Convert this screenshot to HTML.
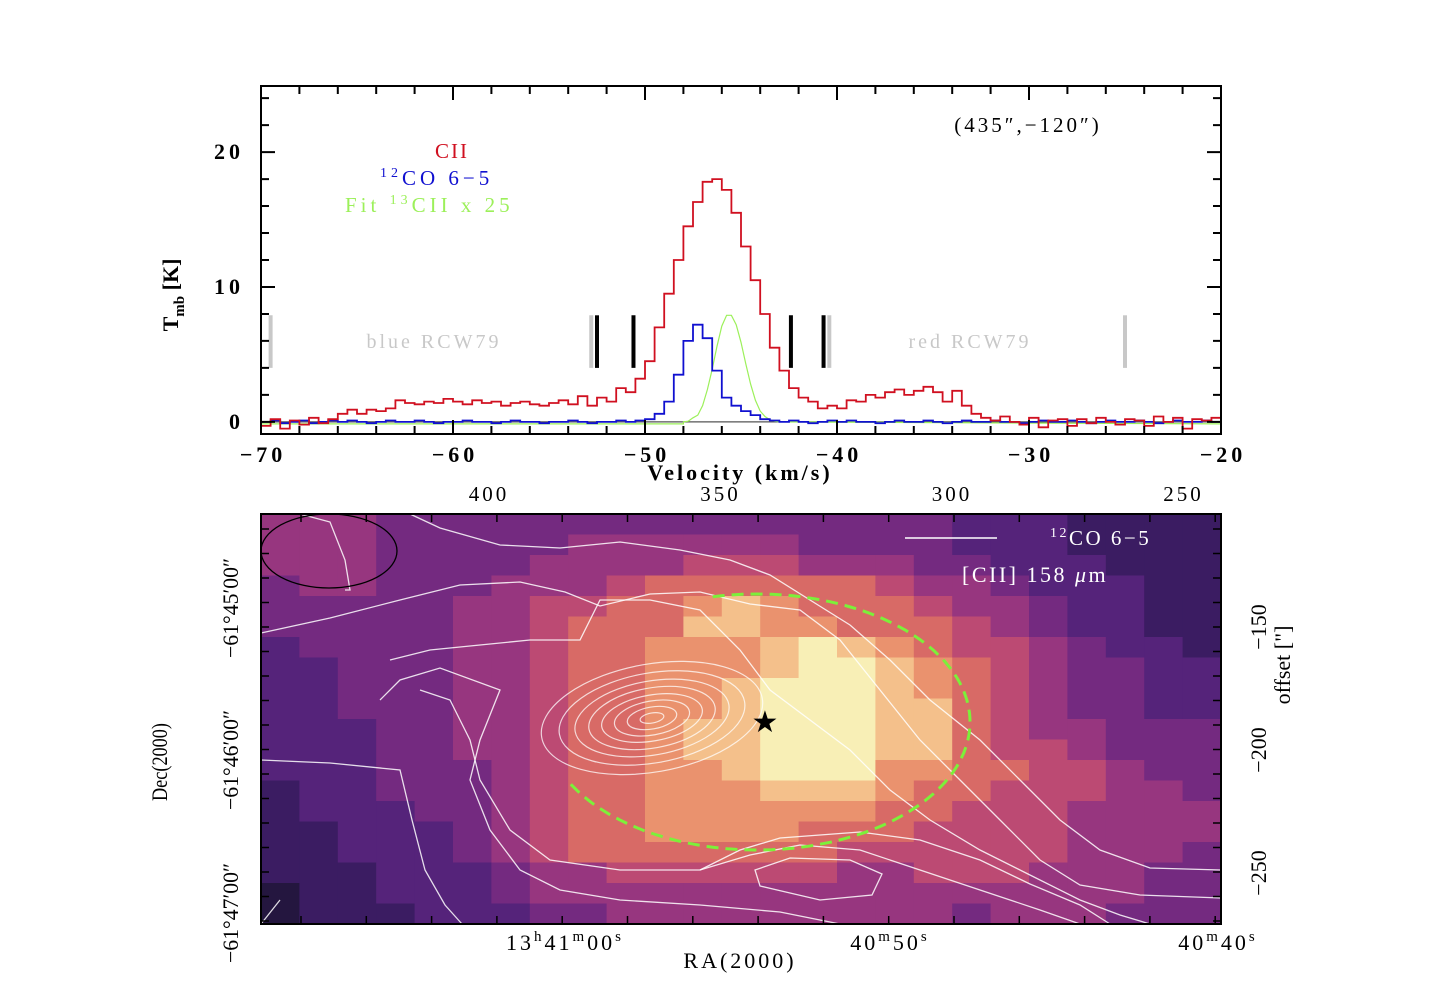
<!DOCTYPE html>
<html><head><meta charset="utf-8"><style>
html,body{margin:0;padding:0;background:#fff;}
svg{display:block;}
text{font-family:"Liberation Serif",serif;}
</style></head><body>
<svg id="root" width="1440" height="1008" viewBox="0 0 1440 1008" xmlns="http://www.w3.org/2000/svg">
<rect x="0" y="0" width="1440" height="1008" fill="#fff"/>
<g id="spec"></g>
<g id="map">
  <g id="heat"></g>
  <g fill="none" stroke="#fff" stroke-width="1.3" stroke-opacity="0.85">
    <path d="M300,514 L330,522 L345,560 L350,590 L345,590"/>
    <path d="M410,514 L440,528 L500,545 L560,548 L620,542 L680,550 L730,560 L770,575 L810,600 L850,625 L890,660 L930,700 L980,740 L1020,780 L1060,820 L1100,850 L1150,868 L1221,870"/>
    <path d="M261,633 L330,618 L400,600 L460,585 L520,582 L565,592 L600,606 L650,594 L700,592 L750,604 L800,610 L840,640 L880,690 L920,740 L960,780 L1000,820 L1040,860 L1080,885 L1140,895 L1221,898"/>
    <path d="M261,760 L330,763 L400,770 L412,820 L425,870 L445,905 L462,924"/>
    <path d="M390,660 L430,650 L480,645 L530,640 L580,640 L600,600 L650,600 L700,610 L740,650 L770,690 L810,720 L850,750 L890,790 L930,820 L980,850 L1030,875 L1080,900 L1120,915 L1150,924"/>
    <path d="M380,700 L400,680 L440,668 L500,690 L480,740 L470,780 L490,830 L520,870 L560,890 L620,900 L700,905 L780,912 L840,924"/>
    <path d="M420,690 L450,700 L470,740 L480,780 L510,830 L550,860 L620,870 L700,870 L750,855 L800,845 L860,850 L920,870 L980,890 L1040,910 L1080,924"/>
    <path d="M755,870 L790,858 L850,860 L882,874 L872,895 L820,900 L760,886 Z"/>
    <path d="M700,870 L740,850 L780,838 L860,832 L920,840 L980,860 L1030,884 L1080,905 L1110,924"/>
    <path d="M261,924 L280,900"/>
  </g>
  <g id="ellc" fill="none" stroke="#fff" stroke-width="1.2" stroke-opacity="0.75"></g>
  <ellipse cx="329" cy="551" rx="68" ry="37" fill="none" stroke="#000" stroke-width="1.3"/>
  <path id="dash" fill="none" stroke="#7cf03a" stroke-width="3" stroke-dasharray="12,7"/>
  <text x="765" y="732" font-size="30" text-anchor="middle" fill="#000">★</text>
  <line x1="905" y1="538" x2="997" y2="538" stroke="#fff" stroke-width="1.6"/>
  <text x="1050" y="545" font-size="21" fill="#fff" letter-spacing="2.5"><tspan font-size="14" dy="-8">12</tspan><tspan dy="8">CO 6−5</tspan></text>
  <text x="962" y="582" font-size="22" fill="#fff" letter-spacing="2.5">[CII] 158 <tspan font-style="italic">μ</tspan>m</text>
</g>
</svg>
<script>
// ---------- Spectrum data ----------
const chanStart = -70, chanWidth = 0.5;
const ciiValues = [-0.3,0.2,-0.5,0.1,-0.2,0.3,-0.1,0.2,0.6,0.9,
 0.6,0.9,0.8,1.0,1.6,1.4,1.3,1.5,1.4,1.7,
 1.5,1.3,1.6,1.4,1.5,1.2,1.4,1.5,1.3,1.2,
 1.4,1.6,1.3,1.9,1.2,1.8,1.5,2.5,2.2,3.2,
 4.5,7.0,9.5,12.0,14.5,16.3,17.8,18.0,17.2,15.5,
 13.0,10.5,8.0,5.5,3.8,2.5,1.8,1.5,1.0,1.2,
 1.0,1.6,1.5,2.0,1.8,2.2,2.4,2.0,2.3,2.6,
 2.2,1.5,2.3,1.2,0.6,0.3,0.1,0.4,0.0,-0.2,
 0.3,-0.4,0.1,0.2,-0.3,0.2,-0.1,0.3,0.0,-0.2,
 0.2,0.1,-0.3,0.4,0.0,0.3,-0.5,0.2,0.1,0.3];
const coValues = [0.0,0.1,-0.1,0.0,0.1,-0.1,0.0,0.1,0.0,0.1,
 0.0,-0.1,0.0,0.1,0.0,0.0,0.1,0.0,-0.1,0.0,
 0.0,0.1,0.0,0.0,-0.1,0.0,0.1,0.0,0.0,-0.1,
 0.0,0.0,0.1,0.0,-0.1,0.0,0.0,0.1,0.0,0.1,
 0.2,0.6,1.5,3.5,6.0,7.2,6.2,3.8,1.8,1.2,
 0.8,0.5,0.2,0.1,0.0,0.1,0.0,-0.1,0.0,0.1,
 0.0,0.1,0.0,0.0,-0.1,0.0,0.1,0.0,0.0,0.1,
 0.0,-0.1,0.0,0.1,0.0,0.0,0.1,0.0,0.0,-0.1,
 0.0,0.1,0.0,0.0,0.1,0.0,-0.1,0.0,0.1,0.0,
 0.0,0.1,0.0,-0.1,0.0,0.1,0.0,0.0,0.1,0.0];
const fitVel = [-48,-47.75,-47.5,-47.25,-47,-46.75,-46.5,-46.25,-46,-45.75,-45.5,-45.25,-45,-44.75,-44.5,-44.25,-44,-43.75,-43.5,-43.25,-43];
const fitValues = [0.0,0.05,0.3,0.5,1.2,2.4,3.9,5.6,7.1,7.9,7.9,7.2,5.9,4.3,2.8,1.6,0.8,0.4,0.15,0.05,0.0];
const xTicks = [-70,-60,-50,-40,-30,-20];
const yTicks = [0,10,20];
const grayMarks = [-69.5,-52.8,-40.4,-25.0];
const blackMarks = [-52.5,-50.6,-42.4,-40.7];

// ---------- Map data ----------
const topTicks = [400,350,300,250];
const rightTicks = [-150,-200,-250];
const decLabels = ["−61°45′00″","−61°46′00″","−61°47′00″"];
const decPos = [608,760,913];
const ciiRows = [
"4443333333333333332221111",
"4443333344444433332221111",
"4443333444455544433222111",
"3443334445666666544322211",
"3333344556678766654432211",
"3333344566688776665432211",
"2333344566777898765543221",
"2233344566777899876543322",
"2233344566778999876543322",
"2233344566778999886543322",
"2223344566788999886544333",
"2223344566788999886554333",
"2223334566778999776655433",
"1223334566777888766555443",
"1222334566777777665554444",
"1122234566777766655554444",
"1122234566666665555554443",
"1112223445555554455544433",
"0112223444444444444444433",
"0111222334444444443444333"];
const coLevelsRx = [12,25,38,51,64,78,94,112];
const coLevelsRy = [5,11,17,23,30,37,45,54];

const NS = "http://www.w3.org/2000/svg";
function mk(tag, attrs, parent){const e=document.createElementNS(NS,tag);for(const k in attrs)e.setAttribute(k,attrs[k]);parent.appendChild(e);return e;}

const X0=261,X1=1221,Y0=86,Y1=434;
const vmin=-70,vmax=-20,tmin=-0.9,tmax=24.9;
const sx=v=>X0+(v-vmin)/(vmax-vmin)*(X1-X0);
const sy=t=>Y1-(t-tmin)/(tmax-tmin)*(Y1-Y0);
const spec=document.getElementById('spec');

grayMarks.forEach(v=>{const l=mk('line',{x1:sx(v),x2:sx(v),y1:sy(7.9),y2:sy(4.0),stroke:'#c8c8c8','stroke-width':4},spec);

});
blackMarks.forEach(v=>{const l=mk('line',{x1:sx(v),x2:sx(v),y1:sy(7.9),y2:sy(4.0),stroke:'#000','stroke-width':4},spec);

});
let t;
t=mk('text',{x:434,y:348,'font-size':20,'text-anchor':'middle',fill:'#c8c8c8','letter-spacing':'3'},spec);t.textContent='blue RCW79';


t=mk('text',{x:970,y:348,'font-size':20,'text-anchor':'middle',fill:'#c8c8c8','letter-spacing':'3'},spec);t.textContent='red RCW79';



const bl=mk('line',{x1:X0,x2:X1,y1:sy(0),y2:sy(0),stroke:'#555','stroke-width':1.3},spec);



function stepPath(vals){let d='';vals.forEach((y,i)=>{const a=sx(chanStart+i*chanWidth),b=sx(chanStart+(i+1)*chanWidth);d+=(i?'L':'M')+a.toFixed(1)+','+sy(y).toFixed(1)+'L'+b.toFixed(1)+','+sy(y).toFixed(1);});return d;}
let gd='M'+sx(vmin)+','+sy(-0.15)+'L'+sx(fitVel[0])+','+sy(-0.15);
fitVel.forEach((v,i)=>{gd+='L'+sx(v).toFixed(1)+','+sy(fitValues[i]).toFixed(1);});
gd+='L'+sx(vmax)+','+sy(-0.15);
const gp=mk('path',{d:gd,fill:'none',stroke:'#9cf05a','stroke-width':1.2},spec);


const bp=mk('path',{d:stepPath(coValues),fill:'none',stroke:'#1010d0','stroke-width':1.8},spec);


const rp=mk('path',{d:stepPath(ciiValues),fill:'none',stroke:'#d01020','stroke-width':1.8},spec);



const fr=mk('rect',{x:X0,y:Y0,width:X1-X0,height:Y1-Y0,fill:'none',stroke:'#000','stroke-width':2},spec);


let td='';
for(let v=vmin;v<=vmax;v+=2){const x=sx(v),L=(v%10===0)?14:8;td+=`M${x},${Y1}v${-L}M${x},${Y0}v${L}`;}
for(let k=0;k<=24;k+=2){const y=sy(k),L=(k%10===0)?14:8;td+=`M${X0},${y}h${L}M${X1},${y}h${-L}`;}
const tk=mk('path',{d:td,stroke:'#000','stroke-width':2,fill:'none'},spec);


xTicks.forEach(v=>{const e=mk('text',{x:sx(v)+2,y:462,'font-size':22,'font-weight':'bold','text-anchor':'middle','letter-spacing':'4'},spec);e.textContent=(v<0?'−':'')+Math.abs(v);

});
yTicks.forEach(k=>{const e=mk('text',{x:244,y:sy(k)+7,'font-size':22,'font-weight':'bold','text-anchor':'end','letter-spacing':'4'},spec);e.textContent=k;

});
t=mk('text',{x:740,y:480,'font-size':22,'font-weight':'bold','text-anchor':'middle','letter-spacing':'3'},spec);t.textContent='Velocity (km/s)';


t=mk('text',{x:0,y:0,'font-size':22,'font-weight':'bold','text-anchor':'middle',transform:'translate(178,295) rotate(-90)'},spec);
t.innerHTML='T<tspan font-size="15" dy="6">mb</tspan><tspan dy="-6"> [K]</tspan>';


t=mk('text',{x:452,y:158,'font-size':21,fill:'#d01020','text-anchor':'middle','letter-spacing':'2'},spec);t.textContent='CII';


t=mk('text',{x:380,y:185,'font-size':21,fill:'#1010d0','letter-spacing':'4'},spec);t.innerHTML='<tspan font-size="14" dy="-8">12</tspan><tspan dy="8">CO 6−5</tspan>';


t=mk('text',{x:345,y:212,'font-size':21,fill:'#9cf05a','letter-spacing':'4'},spec);t.innerHTML='Fit <tspan font-size="14" dy="-8">13</tspan><tspan dy="8">CII x 25</tspan>';


t=mk('text',{x:1028,y:132,'font-size':21,'text-anchor':'middle','letter-spacing':'3'},spec);t.textContent='(435″,−120″)';



// ---------- map ----------
const MX0=261,MX1=1221,MY0=514,MY1=924;
const cmap=['#24163f','#3b1c62','#55237a','#742a80','#97367f','#bc4a73','#d86a66','#ea926e','#f4c08b','#f8efb6'];
const heat=document.getElementById('heat');
const nR=ciiRows.length,nC=ciiRows[0].length;
const cw=(MX1-MX0)/nC,ch=(MY1-MY0)/nR;
ciiRows.forEach((row,j)=>{for(let i=0;i<nC;i++){const v=parseInt(row.charAt(i)||'3');
const r=mk('rect',{x:(MX0+i*cw).toFixed(2),y:(MY0+j*ch).toFixed(2),width:(cw+0.6).toFixed(2),height:(ch+0.6).toFixed(2),fill:cmap[v]},heat);

}});
const ellc=document.getElementById('ellc');
coLevelsRx.forEach((rx,i)=>{const e=mk('ellipse',{cx:652,cy:718,rx:rx,ry:coLevelsRy[i],transform:'rotate(-10 652 718)'},ellc);

});
let dd='';for(let a=-102;a<=152;a+=2){const r=a*Math.PI/180;dd+=(a===-102?'M':'L')+(757+213*Math.cos(r)).toFixed(1)+','+(722+128*Math.sin(r)).toFixed(1);}
document.getElementById('dash').setAttribute('d',dd);
const map=document.getElementById('map');
const mf=mk('rect',{x:MX0,y:MY0,width:MX1-MX0,height:MY1-MY0,fill:'none',stroke:'#000','stroke-width':2},map);


let md='';
for(let x=MX0+40;x<MX1;x+=65.3){md+=`M${x.toFixed(1)},${MY1}v-8M${x.toFixed(1)},${MY0}v8`;}
for(let y=MY0+15;y<MY1;y+=24.5){md+=`M${MX0},${y.toFixed(1)}h8M${MX1},${y.toFixed(1)}h-8`;}
const mt=mk('path',{d:md,stroke:'#000','stroke-width':1.5},map);


const offX=o=>489+(400-o)*4.63;
topTicks.forEach(o=>{const e=mk('text',{x:offX(o),y:501,'font-size':21,'text-anchor':'middle','letter-spacing':'3'},map);e.textContent=o;

});
const offY=o=>627+(-150-o)*2.46;
rightTicks.forEach(o=>{const y=offY(o);const e=mk('text',{x:0,y:0,'font-size':22,'text-anchor':'middle',transform:`translate(1266,${y}) rotate(-90)`},map);e.textContent='−'+Math.abs(o);

});
t=mk('text',{x:0,y:0,'font-size':22,'text-anchor':'middle',transform:'translate(1290,665) rotate(-90)'},map);t.textContent='offset ["]';


decLabels.forEach((s,i)=>{const e=mk('text',{x:0,y:0,'font-size':22,'text-anchor':'middle',textLength:100,lengthAdjust:'spacingAndGlyphs',transform:`translate(238,${decPos[i]}) rotate(-90)`},map);e.textContent=s;

});
t=mk('text',{x:0,y:0,'font-size':22,'text-anchor':'middle',textLength:78,lengthAdjust:'spacingAndGlyphs',transform:'translate(167,762) rotate(-90)'},map);t.textContent='Dec(2000)';


const raLabels=[[565,'13','h','41','m','00','s'],[890,'','','40','m','50','s'],[1218,'','','40','m','40','s']];
raLabels.forEach(a=>{const e=mk('text',{x:a[0],y:950,'font-size':22,'text-anchor':'middle','letter-spacing':'3'},map);
e.innerHTML=(a[1]?a[1]+'<tspan font-size="15" dy="-9">'+a[2]+'</tspan><tspan dy="9">'+a[3]+'</tspan>':a[3])+'<tspan font-size="15" dy="-9">'+a[4]+'</tspan><tspan dy="9">'+a[5]+'</tspan><tspan font-size="15" dy="-9">'+a[6]+'</tspan>';

});
t=mk('text',{x:740,y:968,'font-size':22,'text-anchor':'middle','letter-spacing':'3'},map);t.textContent='RA(2000)';


</script>
</body></html>
